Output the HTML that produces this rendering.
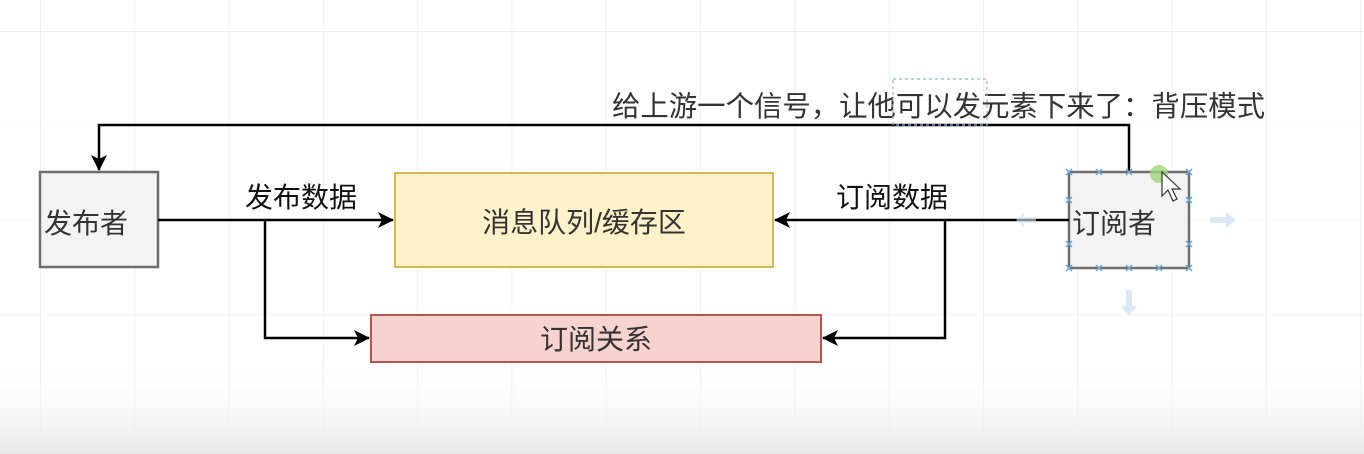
<!DOCTYPE html>
<html><head><meta charset="utf-8"><style>
body{margin:0;width:1364px;height:454px;overflow:hidden;background:#fff;font-family:"Liberation Sans","Noto Sans CJK SC",sans-serif;}
svg{display:block}
</style></head><body>
<svg width="1364" height="454" xmlns="http://www.w3.org/2000/svg">
<defs>
<pattern id="g" x="40" y="31" width="94.3" height="94.5" patternUnits="userSpaceOnUse">
<path d="M0 0H94.3M0 0V94.5" stroke="#ececec" stroke-width="1.5" fill="none"/>
</pattern>
<linearGradient id="fade" x1="0" y1="0" x2="0" y2="1">
<stop offset="0" stop-color="#fff" stop-opacity="0"/>
<stop offset="1" stop-color="#e8e8e8" stop-opacity="1"/>
</linearGradient>
<marker id="a" markerWidth="16" markerHeight="16" refX="15" refY="8" orient="auto" markerUnits="userSpaceOnUse">
<path d="M0,0 L16,8 L0,16 L4,8 Z" fill="#000"/>
</marker>
</defs>
<rect width="1364" height="454" fill="url(#g)"/>
<rect y="360" width="1364" height="94" fill="url(#fade)"/>
<rect x="40" y="172" width="118" height="95" fill="#f3f3f3" stroke="#6e6e6e" stroke-width="2.5"/>
<text x="44" y="233" font-size="28" fill="#333">发布者</text>
<rect x="395" y="173" width="378" height="94" fill="#fdf1c9" stroke="#d6b656" stroke-width="2"/>
<text x="584" y="232" font-size="28" fill="#333" text-anchor="middle">消息队列/缓存区</text>
<rect x="371" y="315" width="450" height="47" fill="#f7d3cf" stroke="#b85450" stroke-width="2"/>
<text x="596" y="349" font-size="28" fill="#333" text-anchor="middle">订阅关系</text>
<rect x="1069" y="172" width="120" height="96" fill="#f3f3f3" stroke="#6e6e6e" stroke-width="2.5"/>
<text x="1072" y="233" font-size="28" fill="#333">订阅者</text>
<g stroke="#000" stroke-width="2.5" fill="none">
<path d="M158 220 H393" marker-end="url(#a)"/>
<path d="M265 220 V338 H369" marker-end="url(#a)"/>
<path d="M1069 220 H775" marker-end="url(#a)"/>
<path d="M945 220 V338 H823" marker-end="url(#a)"/>
<path d="M1129 172 V125 H99 V170" marker-end="url(#a)"/>
</g>
<text x="245" y="207" font-size="28" fill="#111">发布数据</text>
<text x="836" y="207" font-size="28" fill="#111">订阅数据</text>
<text x="612" y="116" font-size="28.4" fill="#333">给上游一个信号，让他可以发元素下来了：背压模式</text>
<rect x="893" y="79" width="94" height="46" fill="none" stroke="#8bbbe0" stroke-width="1.2" stroke-dasharray="3,3"/>
<g stroke="#6fa8d6" stroke-width="1.5">
<path d="M1066 169l6 6M1072 169l-6 6M1186 169l6 6M1192 169l-6 6M1066 265l6 6M1072 265l-6 6M1186 265l6 6M1192 265l-6 6M1096 169l6 6M1102 169l-6 6M1126 169l6 6M1132 169l-6 6M1096 265l6 6M1102 265l-6 6M1126 265l6 6M1132 265l-6 6M1156 265l6 6M1162 265l-6 6M1066 197l6 6M1072 197l-6 6M1066 241l6 6M1072 241l-6 6M1186 197l6 6M1192 197l-6 6M1186 241l6 6M1192 241l-6 6"/>
</g>
<circle cx="1159" cy="174" r="9" fill="#9ed87a" opacity="0.8"/>
<path d="M1162 172 L1162 196 L1168 190 L1173 201 L1177 199 L1172 189 L1180 189 Z" fill="#fff" stroke="#333" stroke-width="1.2"/>
<g fill="#dbe8f3">
<path d="M1210 217h16v-5l10 8-10 8v-5h-16z"/>
<path d="M1036 217h-12v-5l-8 8 8 8v-5h12z" opacity="0.6"/>
<path d="M1126 290h6v16h5l-8 10-8-10h5z"/>
</g>
</svg>
</body></html>
